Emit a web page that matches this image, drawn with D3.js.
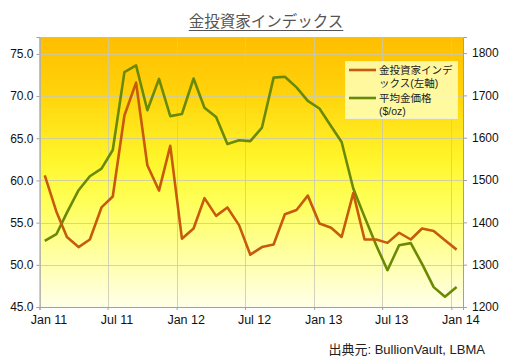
<!DOCTYPE html>
<html><head><meta charset="utf-8">
<script src="https://cdn.jsdelivr.net/npm/d3@7"></script>
<style>
html,body{margin:0;padding:0;background:#fff;}
svg{display:block;}
</style></head>
<body>
<svg id="c" width="507" height="357"></svg>
<script>
// ---- data ----
const months = ["2011-01","2011-02","2011-03","2011-04","2011-05","2011-06","2011-07","2011-08","2011-09","2011-10","2011-11","2011-12",
"2012-01","2012-02","2012-03","2012-04","2012-05","2012-06","2012-07","2012-08","2012-09","2012-10","2012-11","2012-12",
"2013-01","2013-02","2013-03","2013-04","2013-05","2013-06","2013-07","2013-08","2013-09","2013-10","2013-11","2013-12","2014-01"];
const investorIndex = [60.6,56.3,53.3,52.1,53.0,56.8,58.1,67.7,71.6,61.8,58.8,64.1,
53.1,54.3,57.9,55.8,56.8,54.7,51.2,52.1,52.4,56.0,56.5,58.2,
54.9,54.4,53.3,58.5,53.0,53.0,52.6,53.8,53.0,54.3,54.0,52.9,51.8];
const goldPrice = [1356,1372,1423,1476,1509,1527,1571,1755,1771,1665,1739,1651,
1656,1740,1671,1649,1585,1594,1592,1624,1742,1744,1719,1687,
1669,1627,1590,1480,1413,1346,1287,1346,1351,1302,1247,1224,1247];
const leftTicks = [45,50,55,60,65,70,75];
const rightTicks = [1200,1300,1400,1500,1600,1700,1800];
const xTickLabels = ["Jan 11","Jul 11","Jan 12","Jul 12","Jan 13","Jul 13","Jan 14"];
const xTickDates = ["2011-01","2011-07","2012-01","2012-07","2013-01","2013-07","2014-01"];
const seriesNames = [["金投資家インデ","ックス(左軸)"],["平均金価格","($/oz)"]];
const titleText = "金投資家インデックス";
const sourceText = "出典元: BullionVault, LBMA";

// ---- layout ----
const L=39.5, R=463, T=37, B=307;
const svg = d3.select("#c");
const parseM = d3.timeParse("%Y-%m");
const mid = s => { const d=parseM(s); return new Date(d.getFullYear(), d.getMonth(), 15); };

const x = d3.scaleTime().domain([new Date(2011,0,1), new Date(2014,1,1)]).range([L,R]);
const yL = d3.scaleLinear().domain([45,77]).range([B,T]);
const yR = d3.scaleLinear().domain([1200,1838]).range([B,T]);

const defs = svg.append("defs");
const g = defs.append("linearGradient").attr("id","bg").attr("x1",0).attr("y1",0).attr("x2",0).attr("y2",1);
[[0,"#FFBE00"],[0.2,"#FFD20A"],[0.45,"#FFF52A"],[0.6,"#FFFF55"],[1,"#FFFFEA"]].forEach(s=>g.append("stop").attr("offset",s[0]).attr("stop-color",s[1]));

svg.append("rect").attr("x",L).attr("y",T).attr("width",R-L).attr("height",B-T).attr("fill","url(#bg)");

// grid
const grid = svg.append("g").attr("stroke","#c8c8b0").attr("stroke-opacity",0.8).attr("stroke-width",1);
leftTicks.forEach(v=>grid.append("line").attr("x1",L).attr("x2",R).attr("y1",Math.round(yL(v))+0.5).attr("y2",Math.round(yL(v))+0.5));
xTickDates.forEach(s=>{const xx=Math.round(x(parseM(s)))+0.5; grid.append("line").attr("x1",xx).attr("x2",xx).attr("y1",T).attr("y2",B);});

// axes
const fontAx = "Liberation Sans, Arial, sans-serif";
const axL = svg.append("g").attr("transform",`translate(${L},0)`)
  .call(d3.axisLeft(yL).tickValues(leftTicks).tickFormat(d3.format(".1f")).tickSize(3).tickPadding(3));
const axR = svg.append("g").attr("transform",`translate(${R},0)`)
  .call(d3.axisRight(yR).tickValues(rightTicks).tickFormat(d3.format("d")).tickSize(4).tickPadding(5));
const axB = svg.append("g").attr("transform",`translate(0,${B})`)
  .call(d3.axisBottom(x).tickValues(xTickDates.map(parseM)).tickFormat((d,i)=>xTickLabels[i]).tickSize(3).tickPadding(5));
[axL,axR,axB].forEach(a=>{
  a.selectAll(".domain").attr("stroke","#a0a0a0");
  a.selectAll(".tick line").attr("stroke","#a0a0a0");
  a.selectAll("text").attr("font-family",fontAx).attr("font-size",12).attr("fill","#111");
});
axB.selectAll("text").attr("dx",9).attr("font-size",12.5);

// lines
const lineL = d3.line().x((d,i)=>x(mid(months[i]))).y(d=>yL(d));
const lineR = d3.line().x((d,i)=>x(mid(months[i]))).y(d=>yR(d));
const cOrange="#C85A0C", cGreen="#6A8A06";
svg.append("path").datum(goldPrice).attr("d",lineR).attr("fill","none").attr("stroke",cGreen).attr("stroke-width",2.6).attr("stroke-linejoin","round");
svg.append("path").datum(investorIndex).attr("d",lineL).attr("fill","none").attr("stroke",cOrange).attr("stroke-width",2.6).attr("stroke-linejoin","round");

// legend
const lg = svg.append("g");
lg.append("rect").attr("x",345.5).attr("y",61.5).attr("width",112).attr("height",57).attr("fill","#FFFFB8").attr("fill-opacity",0.85).attr("stroke","#f0f0d0");
const fontJ = "Liberation Sans, Noto Sans CJK JP, sans-serif";
[[cOrange,70],[cGreen,98]].forEach((c,i)=>{
  lg.append("line").attr("x1",349).attr("x2",376).attr("y1",c[1]).attr("y2",c[1]).attr("stroke",c[0]).attr("stroke-width",2.6);
  seriesNames[i].forEach((t,j)=>lg.append("text").attr("x",379).attr("y",c[1]+4+j*13).attr("font-family",fontJ).attr("font-size",10.5).attr("fill","#222").text(t));
});

// title
const tt = svg.append("text").attr("x",266).attr("y",27).attr("text-anchor","middle").attr("font-family","Noto Sans CJK JP, sans-serif").attr("font-size",15.5).attr("fill","#555").text(titleText);
const bb = tt.node().getBBox();
svg.append("line").attr("x1",bb.x).attr("x2",bb.x+bb.width).attr("y1",30.5).attr("y2",30.5).attr("stroke","#555").attr("stroke-width",1);

// source
svg.append("text").attr("x",485).attr("y",354).attr("text-anchor","end").attr("font-family",fontJ).attr("font-size",13).attr("fill","#222").text(sourceText);
</script>
</body></html>
